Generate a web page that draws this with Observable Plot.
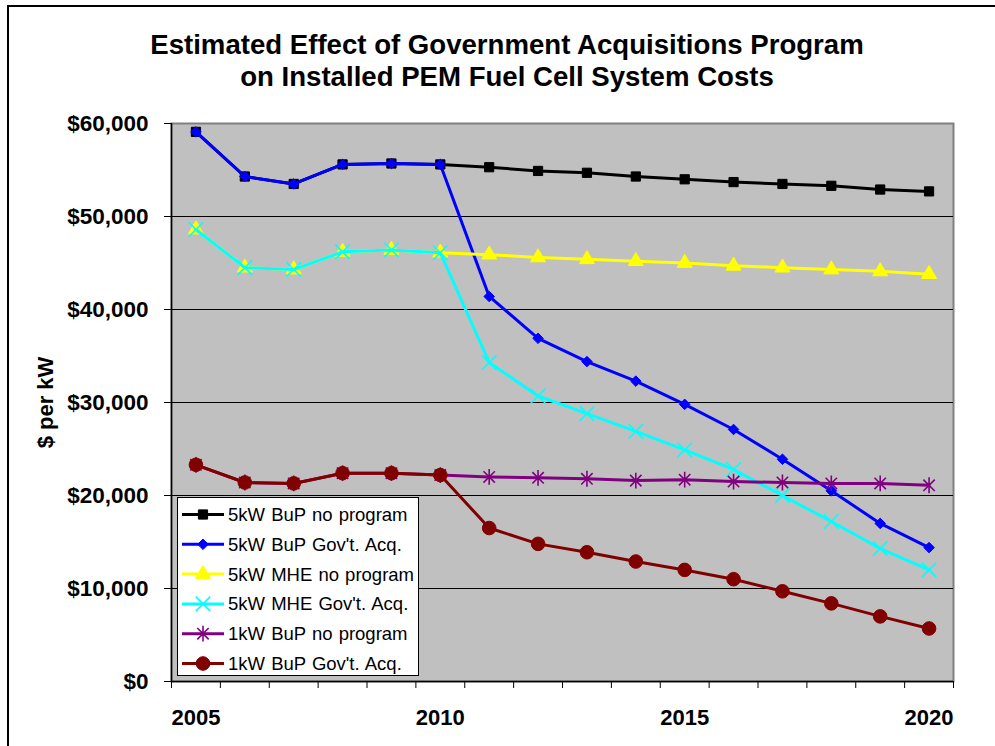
<!DOCTYPE html>
<html>
<head>
<meta charset="utf-8">
<script src="https://cdn.jsdelivr.net/npm/d3@7"></script>
<script src="https://cdn.jsdelivr.net/npm/@observablehq/plot@0.6"></script>
<style>
  body { margin: 0; background: #fff; font-family: "Liberation Sans", Arial, sans-serif; }
  #wrap { position: relative; width: 995px; height: 746px; overflow: hidden; background: #fff; }
  #title { height: 100px; box-sizing: border-box; padding-top: 29px; width: 1014px; text-align: center;
           font-weight: bold; font-size: 27.6px; line-height: 32px; color: #000; }
  #chart { height: 646px; }
  #legend { position: absolute; left: 177px; top: 497px; width: 242px; height: 179px; box-sizing: border-box;
            border: 1px solid #000; background: #fff; }
  #border { position: absolute; left: 7px; top: 5px; width: 1100px; height: 900px; border: 2px solid #000;
            pointer-events: none; }
</style>
</head>
<body>
<div id="wrap">
  <div id="title">Estimated Effect of Government Acquisitions Program<br>on Installed PEM Fuel Cell System Costs</div>
  <div id="chart"></div>
  <div id="legend"></div>
  <div id="border"></div>
</div>
<script>
// ---------- data ----------
const years = [2005, 2006, 2007, 2008, 2009, 2010, 2011, 2012, 2013, 2014, 2015, 2016, 2017, 2018, 2019, 2020];
const bup5NoProgram = [59100, 54300, 53500, 55600, 55700, 55600, 55300, 54900, 54700, 54300, 54000, 53700, 53500, 53300, 52900, 52700];
const bup5GovAcq    = [59100, 54300, 53500, 55600, 55700, 55600, 41400, 36900, 34400, 32300, 29800, 27100, 23900, 20500, 17000, 14400];
const mhe5NoProgram = [48600, 44500, 44300, 46200, 46400, 46100, 45900, 45600, 45400, 45200, 45000, 44700, 44500, 44300, 44100, 43800];
const mhe5GovAcq    = [48600, 44500, 44300, 46200, 46400, 46100, 34300, 30700, 28800, 26900, 24900, 22800, 20000, 17200, 14300, 12000];
const bup1NoProgram = [23300, 21400, 21300, 22400, 22400, 22200, 22000, 21900, 21800, 21600, 21700, 21500, 21400, 21300, 21300, 21100];
const bup1GovAcq    = [23300, 21400, 21300, 22400, 22400, 22200, 16500, 14800, 13900, 12900, 12000, 11000, 9700, 8400, 7000, 5700];
const seriesNames = ["5kW BuP no program", "5kW BuP Gov't. Acq.", "5kW MHE no program", "5kW MHE Gov't. Acq.", "1kW BuP no program", "1kW BuP Gov't. Acq."];
const yTicks = [0, 10000, 20000, 30000, 40000, 50000, 60000];
const xLabelTicks = [2005, 2010, 2015, 2020];
const yLabel = "$ per kW";

// ---------- marker shapes (styles) ----------
const excelDiamond = { draw(ctx, size) { const h = Math.sqrt(size) * 0.62; ctx.moveTo(0, -h); ctx.lineTo(h, 0); ctx.lineTo(0, h); ctx.lineTo(-h, 0); ctx.closePath(); } };
const excelStar = { draw(ctx, size) { const h = Math.sqrt(size) * 0.62; const d = h * 0.72;
  ctx.moveTo(0, -h); ctx.lineTo(0, h); ctx.moveTo(-d, -d); ctx.lineTo(d, d); ctx.moveTo(-d, d); ctx.lineTo(d, -d); } };
const excelTimes = { draw(ctx, size) { const h = Math.sqrt(size) * 0.6;
  ctx.moveTo(-h, -h); ctx.lineTo(h, h); ctx.moveTo(-h, h); ctx.lineTo(h, -h); } };

const seriesValues = [bup5NoProgram, bup5GovAcq, mhe5NoProgram, mhe5GovAcq, bup1NoProgram, bup1GovAcq];
const styles = [
  {color: "#000000", symbol: "square", r: 5.2, filled: true, sw: 1},
  {color: "#0000FF", symbol: excelDiamond, r: 4.8, filled: true, sw: 1},
  {color: "#FFFF00", symbol: "triangle", r: 5.6, filled: true, sw: 1},
  {color: "#00FFFF", symbol: excelTimes, r: 6.8, filled: false, sw: 1.6},
  {color: "#800080", symbol: excelStar, r: 7.2, filled: false, sw: 1.6},
  {color: "#800000", symbol: "circle", r: 6.8, filled: true, sw: 1}
];

const series = seriesNames.map((name, i) => ({
  name, ...styles[i],
  data: years.map((year, j) => ({year, value: seriesValues[i][j], name}))
}));

const boundaries = years.map(y => y - 0.5).concat([years[years.length - 1] + 0.5]);
const fmt = d => "$" + d3.format(",")(d);

const marks = [
  Plot.frame({fill: "#C0C0C0", stroke: "#808080", strokeWidth: 2}),
  Plot.ruleY(yTicks.filter(d => d > 0 && d < 60000), {stroke: "#000", strokeWidth: 1}),
  Plot.ruleY([0], {stroke: "#000", strokeWidth: 1.5}),
  Plot.ruleX([boundaries[0]], {stroke: "#000", strokeWidth: 1.5}),
];
for (const s of series) {
  marks.push(Plot.line(s.data, {x: "year", y: "value", stroke: s.color, strokeWidth: 3}));
  marks.push(Plot.dot(s.data, {x: "year", y: "value", symbol: () => s.symbol, r: s.r,
    fill: s.filled ? s.color : "none", stroke: s.color, strokeWidth: s.sw}));
}
marks.push(
  Plot.axisY({ticks: yTicks, tickFormat: fmt, tickSize: 7, tickPadding: 16, label: null,
              fontSize: 22.5, fontWeight: "bold"}),
  Plot.axisX({ticks: boundaries, tickFormat: () => "", tickSize: 7, label: null}),
  Plot.axisX({ticks: xLabelTicks, tickFormat: d => String(d), tickSize: 0, tickPadding: 28, label: null,
              fontSize: 22, fontWeight: "bold"}),
  Plot.text([yLabel], {frameAnchor: "left", dx: -126, rotate: -90, textAnchor: "middle",
              fontSize: 22, fontWeight: "bold", fill: "#000"})
);

const chart = Plot.plot({
  width: 995,
  height: 646,
  marginTop: 23,
  marginBottom: 65,
  marginLeft: 171,
  marginRight: 42,
  x: {type: "linear", domain: [2004.5, 2020.5], label: null},
  y: {domain: [0, 60000], label: null},
  style: {fontFamily: "'Liberation Sans', Arial, sans-serif", fontSize: "22px", fontWeight: "bold", color: "#000", background: "transparent", overflow: "visible"},
  marks
});
document.getElementById("chart").appendChild(chart);

// ---------- legend ----------
const lg = d3.select("#legend").append("svg").attr("width", 240).attr("height", 177)
  .style("display", "block");
series.forEach((s, i) => {
  const y = 16.5 + i * 29.8;
  const g = lg.append("g").attr("transform", `translate(0,${y})`);
  g.append("line").attr("x1", 4).attr("x2", 46).attr("y1", 0).attr("y2", 0)
    .attr("stroke", s.color).attr("stroke-width", 3);
  const sym = typeof s.symbol === "string"
    ? {square: d3.symbolSquare, triangle: d3.symbolTriangle, circle: d3.symbolCircle}[s.symbol]
    : s.symbol;
  g.append("path").attr("transform", "translate(25,0)")
    .attr("d", d3.symbol(sym, Math.PI * s.r * s.r)())
    .attr("fill", s.filled ? s.color : "none").attr("stroke", s.color).attr("stroke-width", s.sw);
  g.append("text").attr("x", 50).attr("y", 0).attr("dy", "0.35em")
    .attr("font-family", "'Liberation Sans', Arial, sans-serif").attr("font-size", 18.5)
    .attr("word-spacing", "1px")
    .attr("fill", "#000").text(s.name);
});
</script>
</body>
</html>
